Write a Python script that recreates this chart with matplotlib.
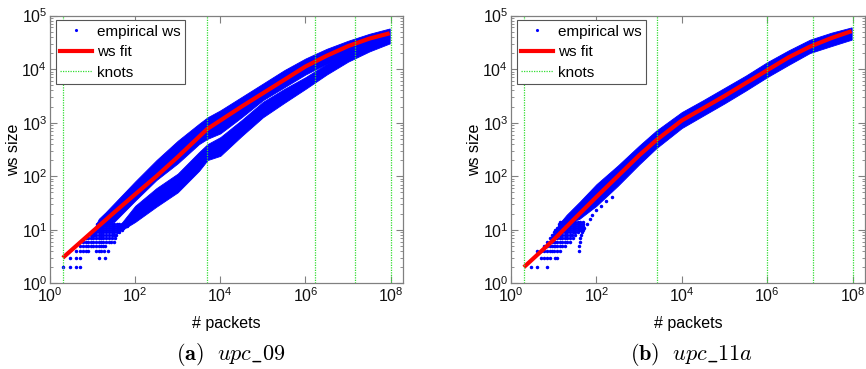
import matplotlib
matplotlib.use("Agg")
import matplotlib.pyplot as plt
from matplotlib.lines import Line2D
from matplotlib.ticker import LogLocator, NullLocator, LogFormatterSciNotation

plt.rcParams['font.family'] = ['Liberation Sans', 'DejaVu Sans']
plt.rcParams['mathtext.fontset'] = 'custom'
plt.rcParams['mathtext.rm'] = 'Liberation Sans'
plt.rcParams['mathtext.it'] = 'Liberation Sans:italic'
plt.rcParams['mathtext.bf'] = 'Liberation Sans:bold'

# ---------------- panel (a) upc_09 ----------------
knots_a = [2, 4900, 1.7e6, 1.45e7, 1e8]
fit_a_x = [2, 10, 32, 100, 316, 1000, 4900, 1e4, 3.16e4, 1e5, 3.16e5, 1e6, 3.16e6, 1e7, 3.16e7, 9.5e7]
fit_a_y = [3, 9.3, 21, 46, 100, 229, 760, 1100, 2000, 3550, 6300, 11200, 17800, 26900, 37200, 46800]

band_a1_x = [12, 14, 20, 32, 100, 316, 1000, 3160, 5000, 1e4, 3.16e4, 1e5, 3.16e5, 1e6, 3.16e6, 1e7, 3.16e7, 9.5e7]
band_a1_top = [12.5, 16, 21, 31, 80, 200, 460, 955, 1260, 1700, 3020, 5370, 9550, 15800, 24000, 33900, 45700, 57500]
band_a1_bot = [11.5, 12, 12, 14, 35, 85, 174, 398, 500, 630, 1260, 2630, 4570, 7940, 12600, 20000, 29500, 39800]

band_a2_x = [40, 50, 100, 316, 1000, 3160, 5000, 1e4, 3.16e4, 1e5, 3.16e5, 1e6, 3.16e6, 1e7, 3.16e7, 9.5e7]
band_a2_top = [11, 14, 28, 60, 112, 282, 398, 537, 1120, 2450, 4270, 7080, 12600, 21400, 30200, 39800]
band_a2_bot = [10, 10, 14, 27, 50, 126, 200, 240, 562, 1260, 2340, 4270, 7940, 13800, 21400, 30200]

rows_a_y = [2, 3, 4, 5, 6, 7, 8, 9, 10, 11, 12, 13]
rows_a_x = [
    [2, 3, 4, 5],
    [3, 4, 5, 14, 20],
    [4, 5, 6, 7, 8, 12, 14, 16, 19, 23],
    [5, 6, 7, 8, 9, 10, 12, 14, 16, 18, 20],
    [6, 7, 8, 9, 10, 12, 14, 16, 18, 21, 24, 27, 31],
    [7, 8, 9, 10, 12, 14, 16, 18, 21, 24, 28, 33],
    [9, 10, 11, 12, 14, 16, 18, 21, 24, 28, 32, 36],
    [10, 11, 12, 14, 16, 18, 21, 24, 28, 32, 37, 42],
    [11, 12, 14, 16, 18, 21, 24, 28, 32, 37, 42, 48],
    [12, 14, 16, 18, 21, 24, 28, 32, 37, 42, 48, 53],
    [13, 14, 16, 18, 21, 24, 28, 32, 37, 42, 48, 55, 63],
    [13, 14, 16, 18, 21, 24, 28, 32, 37, 42, 48, 55, 63],
]

# ---------------- panel (b) upc_11a ----------------
knots_b = [2, 2570, 1e6, 1.2e7, 1e8]
fit_b_x = [2, 10, 32, 100, 316, 1000, 2500, 1e4, 3.16e4, 1e5, 3.16e5, 1e6, 3.16e6, 1e7, 3.16e7, 9.5e7]
fit_b_y = [2, 6.5, 16.6, 41, 100, 245, 468, 1100, 1860, 3160, 5500, 9550, 16600, 26300, 38000, 51300]

band_b_x = [14, 20, 40, 100, 316, 1000, 2500, 1e4, 3.16e4, 1e5, 3.16e5, 1e6, 3.16e6, 1e7, 3.16e7, 9.5e7]
band_b_top = [13.5, 19, 33, 71, 158, 372, 708, 1580, 2630, 4470, 7590, 13500, 22400, 35500, 47900, 60300]
band_b_bot = [12.5, 13, 16, 28, 66, 166, 331, 794, 1350, 2290, 3980, 7080, 12000, 20000, 26900, 35500]

rows_b_y = [2, 3, 4, 5, 6, 7, 8, 9, 10, 11, 12, 13, 14]
rows_b_x = [
    [3, 4, 7],
    [5, 6, 7, 8, 11, 12],
    [4, 5, 6, 7, 8, 9, 10, 12, 14],
    [6, 7, 8, 9, 10, 11, 12, 14, 16, 18],
    [7, 8, 9, 10, 11, 12, 14, 16, 18, 21, 24],
    [8, 9, 10, 11, 12, 14, 16, 18, 21, 24, 29],
    [9, 10, 11, 12, 14, 16, 18, 21, 24, 27, 31],
    [10, 11, 12, 14, 16, 18, 21, 24, 28, 32, 37],
    [11, 12, 14, 16, 18, 21, 24, 28, 32, 37, 41],
    [12, 14, 16, 18, 21, 24, 28, 32, 37, 41, 45],
    [13, 14, 16, 18, 21, 24, 28, 32, 37, 42, 49],
    [13, 14, 16, 18, 21, 24, 28, 32, 37, 42, 49],
    [14, 16, 18, 21, 24, 28, 32, 37, 42, 49],
]
strag_b_x = [40, 40, 41, 42, 43, 45, 48, 52, 60, 70, 80, 100, 130, 170, 230]
strag_b_y = [4, 5, 6, 7, 8, 9, 10, 11, 13, 16, 19, 23, 28, 34, 41]

captions = [r'$\mathbf{(a)}\ \ upc\_09$', r'$\mathbf{(b)}\ \ upc\_11a$']

BLUE = '#0000ff'
RED = '#ff0000'
GREEN = '#33dd33'
FRAME = '#808080'

fig = plt.figure(figsize=(8.66, 3.69), dpi=100)
ax1 = fig.add_axes([50 / 866, 85.7 / 369, 353 / 866, 267.7 / 369])
ax2 = fig.add_axes([511 / 866, 85.7 / 369, 354 / 866, 267.7 / 369])


def draw(ax, bands, rows_y, rows_x, fit_x, fit_y, knots, extra=None):
    for bx, bt, bb in bands:
        ax.fill_between(bx, bb, bt, color=BLUE, lw=0.6, edgecolor=BLUE, zorder=2)
    for y, xs in zip(rows_y, rows_x):
        ax.plot(xs, [y] * len(xs), ls='none', marker='.', ms=3, color=BLUE, zorder=2)
    if extra is not None:
        ax.plot(extra[0], extra[1], ls='none', marker='.', ms=3, color=BLUE, zorder=2)
    ax.plot(fit_x, fit_y, color=RED, lw=3, solid_capstyle='butt', zorder=3)
    for k in knots:
        ax.axvline(k, color=GREEN, ls=(0, (1, 1)), lw=0.9, zorder=4)
    ax.set_xscale('log')
    ax.set_yscale('log')
    ax.set_xlim(1, 10 ** 8.29)
    ax.set_ylim(1, 1e5)
    ax.set_xticks([1e0, 1e2, 1e4, 1e6, 1e8])
    ax.xaxis.set_minor_locator(NullLocator())
    ax.xaxis.set_major_formatter(LogFormatterSciNotation())
    ax.yaxis.set_major_locator(LogLocator(base=10, numticks=10))
    ax.yaxis.set_minor_locator(LogLocator(base=10, subs=range(2, 10), numticks=20))
    ax.tick_params(which='both', direction='in', top=True, right=True, color=FRAME,
                   labelsize=11.5, labelcolor='#111111')
    ax.tick_params(which='major', length=5, width=0.8)
    ax.tick_params(which='minor', length=2.5, width=0.6)
    ax.tick_params(axis='x', pad=2)
    ax.tick_params(axis='y', pad=2)
    for s in ax.spines.values():
        s.set_color(FRAME)
        s.set_linewidth(0.9)
    ax.set_xlabel('# packets', fontsize=11.5, labelpad=8)
    ax.set_ylabel('ws size', fontsize=11.5, va='center')
    ax.yaxis.set_label_coords(-0.104, 0.5)
    handles = [
        Line2D([], [], ls='none', marker='.', ms=2.5, color=BLUE),
        Line2D([], [], color=RED, lw=3),
        Line2D([], [], color=GREEN, ls=(0, (1, 1)), lw=0.9),
    ]
    leg = ax.legend(handles, ['empirical ws', 'ws fit', 'knots'], loc='upper left',
                    bbox_to_anchor=(0.017, 0.982), borderaxespad=0, fontsize=11,
                    fancybox=False, framealpha=1, edgecolor='#555555',
                    handlelength=2.1, handletextpad=0.3, labelspacing=0.42,
                    borderpad=0.28)
    leg.get_frame().set_linewidth(0.8)
    leg.set_zorder(10)


draw(ax1, [(band_a1_x, band_a1_top, band_a1_bot), (band_a2_x, band_a2_top, band_a2_bot)],
     rows_a_y, rows_a_x, fit_a_x, fit_a_y, knots_a)
draw(ax2, [(band_b_x, band_b_top, band_b_bot)],
     rows_b_y, rows_b_x, fit_b_x, fit_b_y, knots_b, extra=(strag_b_x, strag_b_y))

fig.text(231 / 866, 1 - 354 / 369, captions[0], ha='center', va='center', fontsize=16,
         math_fontfamily='cm')
fig.text(692 / 866, 1 - 354 / 369, captions[1], ha='center', va='center', fontsize=16,
         math_fontfamily='cm')

fig.savefig('out.png', dpi=100)
